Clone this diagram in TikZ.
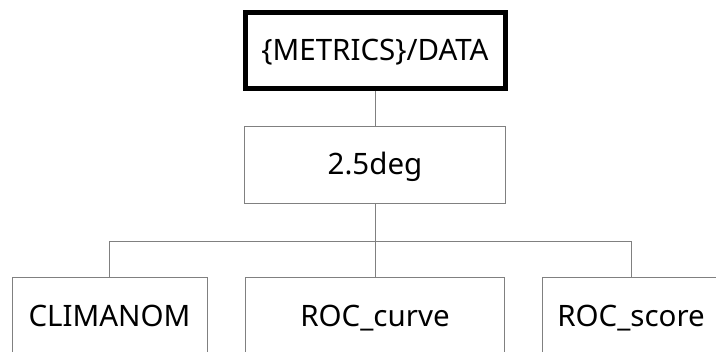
\documentclass[tikz,border=0pt]{standalone}
\usepackage{fontspec}
\setmainfont{Noto Sans}
\usepackage{tikz}
\usetikzlibrary{positioning}

\begin{document}
\begin{tikzpicture}[x=1pt,y=-1pt,
        box/.style={draw=black!50, line width=0.8pt, minimum height=77pt, inner sep=0pt, text height=21pt, text depth=0pt, font=\fontsize{29.5}{34}\selectfont},
        rootbox/.style={box, draw=black, line width=5pt, minimum height=76pt, minimum width=260pt},
        link/.style={draw=black!50, line width=0.8pt}
      ]
        \useasboundingbox (0,0) rectangle (716,352);
        \clip (0,0) rectangle (716,352);

        % Wurzel
        \node[rootbox] (root) at (375,50.5) {\{METRICS\}/DATA};
        \node[box, minimum width=261pt] (res) at (375,164.5) {2.5deg};

        % Blaetter
        \node[box, minimum width=195pt, minimum height=78pt] (clim) at (109.5,316) {CLIMANOM};
        \node[box, minimum width=259pt, minimum height=78pt] (curve) at (375,316) {ROC\_curve};
        \node[box, minimum width=178pt, minimum height=78pt] (score) at (631,316) {ROC\_score};

        % Verbindungen
        \coordinate (bar) at (375,241);
        \draw[link] (root.south) -- (res.north);
        \draw[link] (res.south) -- (bar);
        \draw[link] (bar) -| (clim.north);
        \draw[link] (bar) -| (score.north);
        \draw[link] (bar) -- (curve.north);
      \end{tikzpicture}
\end{document}
